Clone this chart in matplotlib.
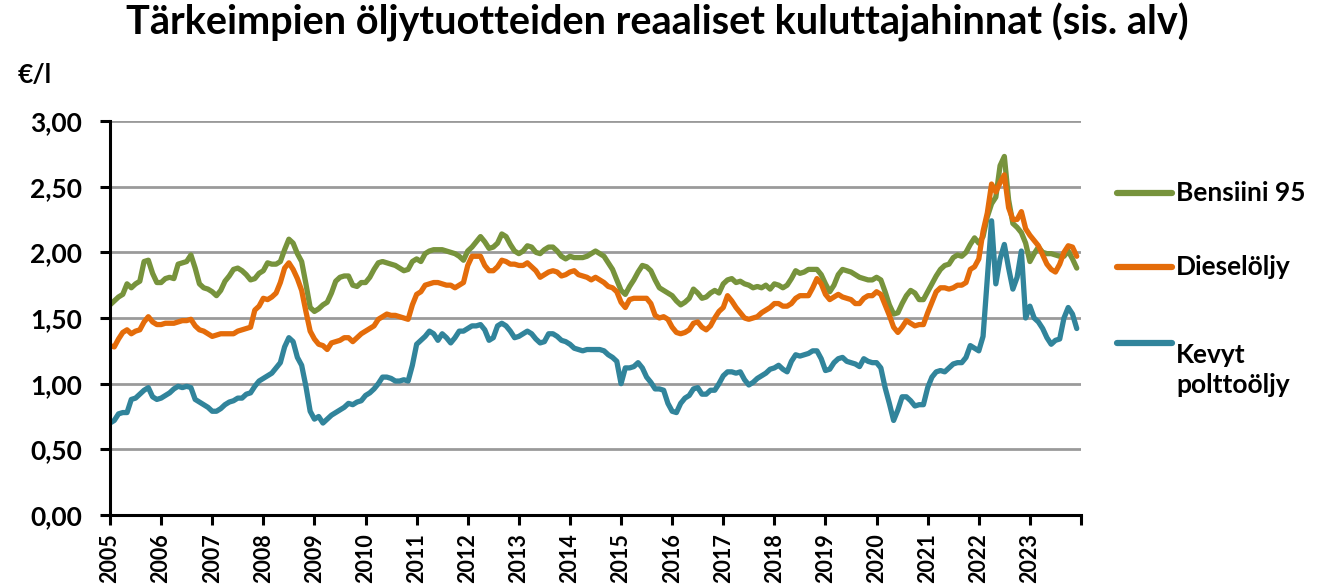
import matplotlib
matplotlib.use('Agg')
import matplotlib.pyplot as plt
from matplotlib.lines import Line2D
import numpy as np

# ---------------- data (monthly, Jan 2005 - Dec 2023), €/l ----------------
years = list(range(2005, 2024))

bensiini_95 = [
    1.60, 1.63, 1.66, 1.68, 1.76, 1.73, 1.76, 1.78, 1.93, 1.94, 1.84, 1.77,  # 2005
    1.77, 1.80, 1.81, 1.80, 1.91, 1.92, 1.93, 1.98, 1.88, 1.76, 1.73, 1.72,  # 2006
    1.70, 1.67, 1.71, 1.78, 1.82, 1.87, 1.88, 1.86, 1.83, 1.79, 1.80, 1.84,  # 2007
    1.86, 1.92, 1.91, 1.91, 1.93, 2.02, 2.10, 2.07, 1.99, 1.93, 1.76, 1.58,  # 2008
    1.55, 1.57, 1.60, 1.62, 1.69, 1.78, 1.81, 1.82, 1.82, 1.75, 1.74, 1.77,  # 2009
    1.77, 1.81, 1.87, 1.92, 1.93, 1.92, 1.91, 1.90, 1.88, 1.86, 1.87, 1.93,  # 2010
    1.95, 1.93, 1.99, 2.01, 2.02, 2.02, 2.02, 2.01, 2.00, 1.99, 1.97, 1.94,  # 2011
    2.01, 2.04, 2.08, 2.12, 2.08, 2.03, 2.04, 2.07, 2.14, 2.12, 2.06, 2.01,  # 2012
    1.99, 2.01, 2.05, 2.04, 2.00, 1.99, 2.02, 2.04, 2.04, 2.01, 1.97, 1.95,  # 2013
    1.97, 1.96, 1.96, 1.96, 1.97, 1.99, 2.01, 1.99, 1.97, 1.92, 1.87, 1.79,  # 2014
    1.71, 1.68, 1.74, 1.79, 1.85, 1.90, 1.89, 1.86, 1.79, 1.73, 1.71, 1.69,  # 2015
    1.67, 1.63, 1.60, 1.62, 1.65, 1.72, 1.69, 1.65, 1.66, 1.69, 1.71, 1.69,  # 2016
    1.76, 1.79, 1.80, 1.77, 1.78, 1.76, 1.75, 1.73, 1.74, 1.73, 1.75, 1.72,  # 2017
    1.76, 1.75, 1.73, 1.75, 1.80, 1.86, 1.84, 1.85, 1.87, 1.87, 1.87, 1.83,  # 2018
    1.76, 1.70, 1.75, 1.83, 1.87, 1.86, 1.85, 1.83, 1.81, 1.80, 1.79, 1.79,  # 2019
    1.81, 1.79, 1.70, 1.60, 1.53, 1.54, 1.61, 1.67, 1.71, 1.69, 1.64, 1.64,  # 2020
    1.70, 1.76, 1.82, 1.87, 1.90, 1.91, 1.96, 1.98, 1.97, 2.00, 2.06, 2.11,  # 2021
    2.07, 2.12, 2.27, 2.37, 2.42, 2.66, 2.73, 2.40, 2.22, 2.19, 2.15, 2.07,  # 2022
    1.93, 1.99, 2.04, 2.00, 1.99, 1.99, 1.98, 1.97, 1.97, 2.01, 1.95, 1.88,  # 2023
]

dieselolju = [
    1.29, 1.28, 1.34, 1.39, 1.41, 1.38, 1.40, 1.41, 1.47, 1.51, 1.47, 1.45,
    1.45, 1.46, 1.46, 1.46, 1.47, 1.48, 1.48, 1.49, 1.44, 1.41, 1.40, 1.38,
    1.36, 1.37, 1.38, 1.38, 1.38, 1.38, 1.40, 1.41, 1.42, 1.43, 1.56, 1.59,
    1.65, 1.64, 1.66, 1.69, 1.77, 1.88, 1.92, 1.87, 1.80, 1.71, 1.55, 1.40,
    1.34, 1.30, 1.29, 1.26, 1.31, 1.32, 1.33, 1.35, 1.35, 1.32, 1.35, 1.38,
    1.40, 1.42, 1.44, 1.49, 1.51, 1.53, 1.52, 1.52, 1.51, 1.50, 1.49, 1.60,
    1.68, 1.70, 1.75, 1.76, 1.77, 1.77, 1.76, 1.75, 1.75, 1.73, 1.75, 1.77,
    1.90, 1.97, 1.97, 1.97, 1.90, 1.86, 1.86, 1.89, 1.94, 1.93, 1.91, 1.91,
    1.90, 1.90, 1.92, 1.89, 1.86, 1.81, 1.83, 1.85, 1.86, 1.85, 1.82, 1.83,
    1.85, 1.86, 1.83, 1.82, 1.81, 1.79, 1.81, 1.79, 1.77, 1.74, 1.73, 1.70,
    1.62, 1.58, 1.64, 1.65, 1.65, 1.65, 1.65, 1.61, 1.52, 1.50, 1.51, 1.49,
    1.43, 1.39, 1.38, 1.39, 1.41, 1.46, 1.47, 1.43, 1.41, 1.44, 1.50, 1.55,
    1.58, 1.67, 1.63, 1.58, 1.54, 1.50, 1.49, 1.50, 1.51, 1.54, 1.56, 1.58,
    1.61, 1.61, 1.59, 1.59, 1.61, 1.65, 1.67, 1.67, 1.67, 1.73, 1.80, 1.76,
    1.68, 1.64, 1.66, 1.68, 1.66, 1.65, 1.64, 1.61, 1.61, 1.65, 1.67, 1.67,
    1.70, 1.68, 1.60, 1.52, 1.43, 1.39, 1.43, 1.48, 1.46, 1.44, 1.45, 1.45,
    1.54, 1.62, 1.70, 1.73, 1.73, 1.72, 1.73, 1.75, 1.75, 1.77, 1.87, 1.89,
    1.95, 2.16, 2.30, 2.52, 2.46, 2.53, 2.59, 2.34, 2.25, 2.25, 2.31, 2.18,
    2.13, 2.09, 2.05, 1.98, 1.91, 1.87, 1.85, 1.91, 2.00, 2.05, 2.04, 1.97,
]

kevyt_polttoolju = [
    0.70, 0.72, 0.77, 0.78, 0.78, 0.88, 0.89, 0.92, 0.95, 0.97, 0.90, 0.88,
    0.89, 0.91, 0.93, 0.96, 0.98, 0.97, 0.98, 0.97, 0.88, 0.86, 0.84, 0.82,
    0.79, 0.79, 0.81, 0.84, 0.86, 0.87, 0.89, 0.89, 0.92, 0.93, 0.98, 1.02,
    1.04, 1.06, 1.08, 1.12, 1.16, 1.28, 1.35, 1.32, 1.20, 1.14, 0.98, 0.79,
    0.73, 0.75, 0.70, 0.73, 0.76, 0.78, 0.80, 0.82, 0.85, 0.84, 0.86, 0.87,
    0.91, 0.93, 0.96, 1.00, 1.05, 1.05, 1.04, 1.02, 1.02, 1.03, 1.02, 1.14,
    1.30, 1.33, 1.36, 1.40, 1.38, 1.33, 1.38, 1.35, 1.31, 1.35, 1.40, 1.40,
    1.42, 1.44, 1.44, 1.45, 1.41, 1.33, 1.35, 1.44, 1.46, 1.44, 1.40, 1.35,
    1.36, 1.38, 1.40, 1.38, 1.34, 1.31, 1.32, 1.38, 1.38, 1.36, 1.33, 1.32,
    1.30, 1.27, 1.26, 1.25, 1.26, 1.26, 1.26, 1.26, 1.25, 1.22, 1.20, 1.17,
    1.00, 1.12, 1.12, 1.13, 1.16, 1.12, 1.05, 1.01, 0.96, 0.96, 0.95, 0.85,
    0.79, 0.78, 0.85, 0.89, 0.91, 0.96, 0.97, 0.92, 0.92, 0.95, 0.95, 1.00,
    1.06, 1.09, 1.09, 1.08, 1.09, 1.03, 0.99, 1.01, 1.04, 1.06, 1.08, 1.11,
    1.12, 1.14, 1.11, 1.09, 1.17, 1.22, 1.21, 1.22, 1.23, 1.25, 1.25, 1.19,
    1.10, 1.11, 1.16, 1.19, 1.20, 1.17, 1.16, 1.15, 1.13, 1.19, 1.17, 1.16,
    1.16, 1.12, 0.97, 0.85, 0.72, 0.80, 0.90, 0.90, 0.87, 0.83, 0.84, 0.84,
    0.97, 1.05, 1.09, 1.10, 1.09, 1.12, 1.15, 1.16, 1.16, 1.20, 1.29, 1.27,
    1.25, 1.36, 1.80, 2.24, 1.76, 1.95, 2.06, 1.88, 1.72, 1.81, 2.01, 1.50,
    1.59, 1.50, 1.47, 1.42, 1.35, 1.30, 1.33, 1.34, 1.50, 1.58, 1.53, 1.42,
]

series_names = ['Bensiini 95', 'Dieselöljy', 'Kevyt\npolttoöljy']
series_colors = ['#77933C', '#E46C0A', '#31849B']
y_ticks = [0.0, 0.5, 1.0, 1.5, 2.0, 2.5, 3.0]

# ---------------- figure ----------------
FONT = 'Lato'
plt.rcParams['font.family'] = [FONT, 'DejaVu Sans']

W, H = 1329, 588
fig = plt.figure(figsize=(W / 100, H / 100), dpi=100)
ax = fig.add_axes([110 / W, 73 / H, 971 / W, 394 / H])

x = np.array([y + m / 12 for y in years for m in range(12)])
handles = []
for vals, name, col in zip([bensiini_95, dieselolju, kevyt_polttoolju],
                           series_names, series_colors):
    ln, = ax.plot(x, vals, color=col, lw=3.8, label=name,
                  solid_joinstyle='round', solid_capstyle='round')
    handles.append(ln)

ax.set_xlim(years[0], years[-1] + 1)
ax.set_ylim(y_ticks[0], y_ticks[-1])
ax.set_yticks(y_ticks)
ax.set_yticklabels([f'{v:.2f}'.replace('.', ',') for v in y_ticks],
                   fontsize=19, fontweight='bold')
ax.set_xticks(years + [years[-1] + 1])
ax.set_xticklabels([str(y) for y in years] + [''], rotation=90,
                   fontsize=15.5, fontweight='bold', va='top')

ax.yaxis.grid(True, color='#9a9a9a', lw=2)
ax.set_axisbelow(True)
for s in ['top', 'right']:
    ax.spines[s].set_visible(False)
for s in ['left', 'bottom']:
    ax.spines[s].set_linewidth(2.2)
    ax.spines[s].set_color('black')
ax.tick_params(axis='y', direction='out', length=7, width=2.2, pad=13)
ax.tick_params(axis='x', direction='out', length=7, width=2.2, pad=6)

fig.text(0.4945, 0.962, 'Tärkeimpien öljytuotteiden reaaliset kuluttajahinnat (sis. alv)',
         ha='center', va='center', fontsize=28.5, fontweight='bold')
fig.text(18 / W, 1 - 75 / H, '€/l', ha='left', va='center',
         fontsize=19, fontweight='bold')

# legend (drawn beside the plot, one entry per series)
leg_y = [193, 267, 343]
for ln, name, yy in zip(handles, series_names, leg_y):
    fy = 1 - yy / H
    fig.add_artist(Line2D([1117 / W, 1172 / W], [fy, fy], transform=fig.transFigure,
                          color=ln.get_color(), lw=4.5, solid_capstyle='round'))
    fig.text(1176 / W, fy, name, ha='left', va='top' if '\n' in name else 'center',
             fontsize=19, fontweight='bold', linespacing=1.3,
             transform=fig.transFigure)

fig.savefig('out.png', dpi=100)
